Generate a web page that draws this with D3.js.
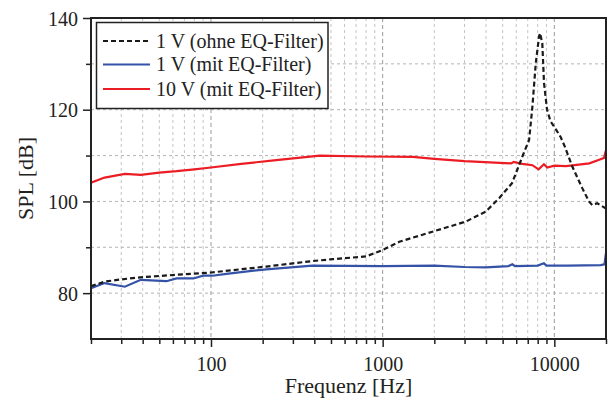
<!DOCTYPE html>
<html>
<head>
<meta charset="utf-8">
<script src="https://d3js.org/d3.v7.min.js"></script>
</head>
<body style="margin:0; background:#fff;">
<div id="chart"></div>
<script>
// frequency response data (Hz, dB)
var redFreq = [20, 24, 31.5, 39, 50, 63, 80, 100, 150, 240, 430, 800, 1500, 2000, 3000, 5600, 5800, 6500, 7450, 8100, 8700, 9100, 10000, 11700, 16000, 18600, 19500, 20000];
var redDb   = [104.1, 105.2, 106.0, 105.8, 106.3, 106.6, 107.0, 107.4, 108.2, 109.0, 110.0, 109.8, 109.7, 109.3, 108.8, 108.3, 108.6, 108.2, 107.9, 107.0, 108.1, 107.4, 107.8, 107.7, 108.3, 109.2, 109.5, 111.2];

var blueFreq = [20, 24, 31.5, 39, 55, 63, 79, 90, 102, 123, 210, 390, 1000, 2000, 3000, 4000, 5400, 5700, 5900, 8000, 8700, 9000, 12000, 18600, 19600, 20000];
var blueDb   = [81.1, 82.2, 81.4, 82.9, 82.6, 83.2, 83.2, 83.8, 83.8, 84.2, 85.2, 86.0, 85.9, 86.0, 85.7, 85.6, 85.9, 86.3, 85.9, 86.0, 86.5, 86.0, 86.0, 86.1, 86.3, 88.8];

var blackFreq = [20, 24, 30, 40, 63, 100, 210, 390, 510, 800, 1000, 1250, 1950, 3050, 3990, 4770, 5675, 6515, 7130, 7450, 7800, 8150, 8260, 8510, 8710, 9070, 9500, 10300, 10900, 11500, 12730, 14550, 15910, 16640, 17790, 19900];
var blackDb   = [81.5, 82.5, 83.0, 83.5, 84.0, 84.5, 85.8, 87.0, 87.4, 88.0, 89.4, 91.2, 93.4, 95.6, 97.8, 100.7, 104.0, 109.8, 113.4, 120.6, 130.2, 136.0, 136.7, 134.5, 125.8, 120.0, 117.5, 115.5, 114.0, 112.0, 107.6, 102.9, 100.0, 99.2, 99.6, 98.5];

var legendLabels = ["1 V (ohne EQ-Filter)", "1 V (mit EQ-Filter)", "10 V (mit EQ-Filter)"];
var xMajorTicks = [100, 1000, 10000];
var yMajorTicks = [80, 100, 120, 140];

var W = 608, H = 405;
var pL = 91, pR = 606, pT = 18, pB = 339;
var FONT = "Liberation Serif";

var svg = d3.select("#chart").append("svg")
    .attr("width", W).attr("height", H)
    .style("font-family", "'Liberation Serif'");

var x = d3.scaleLog().domain([20, 20000]).range([pL, pR]);
var y = d3.scaleLinear().domain([70, 140]).range([pB, pT]);

// minor frequency ticks
var xMinor = [];
[10, 100, 1000, 10000].forEach(function(dec) {
  for (var k = 1; k <= 9; k++) {
    var v = dec * k;
    if (v >= 20 && v <= 20000 && xMajorTicks.indexOf(v) < 0) xMinor.push(v);
  }
});
var yMinor = [90, 110, 130];

// grid
var grid = svg.append("g");
grid.selectAll(".vminor").data(xMinor.filter(function(d){ return d > 20 && d < 20000; }))
  .enter().append("line")
    .attr("x1", function(d){ return x(d); }).attr("x2", function(d){ return x(d); })
    .attr("y1", pT).attr("y2", pB)
    .attr("stroke", "#c4c4c4").attr("stroke-width", 1).attr("stroke-dasharray", "3,3");
grid.selectAll(".vmajor").data(xMajorTicks)
  .enter().append("line")
    .attr("x1", function(d){ return x(d); }).attr("x2", function(d){ return x(d); })
    .attr("y1", pT).attr("y2", pB)
    .attr("stroke", "#9a9a9a").attr("stroke-width", 1).attr("stroke-dasharray", "4,3");
grid.selectAll(".h").data([80, 90, 100, 110, 120, 130])
  .enter().append("line")
    .attr("x1", pL).attr("x2", pR)
    .attr("y1", function(d){ return y(d); }).attr("y2", function(d){ return y(d); })
    .attr("stroke", "#b4b4b4").attr("stroke-width", 1).attr("stroke-dasharray", "3,3");

// curves
svg.append("clipPath").attr("id", "clip").append("rect")
  .attr("x", pL).attr("y", pT).attr("width", pR - pL).attr("height", pB - pT);

var line = d3.line()
  .x(function(d){ return x(d[0]); })
  .y(function(d){ return y(d[1]); });

function pairs(f, v) { return f.map(function(d, i){ return [d, v[i]]; }); }

var curves = svg.append("g").attr("clip-path", "url(#clip)");
curves.append("path").datum(pairs(blueFreq, blueDb))
  .attr("d", line).attr("fill", "none").attr("stroke", "#3452a6").attr("stroke-width", 2.2);
curves.append("path").datum(pairs(redFreq, redDb))
  .attr("d", line).attr("fill", "none").attr("stroke", "#ec1c24").attr("stroke-width", 2.2);
curves.append("path").datum(pairs(blackFreq, blackDb))
  .attr("d", line).attr("fill", "none").attr("stroke", "#1a1a1a").attr("stroke-width", 2.2)
  .attr("stroke-dasharray", "5,3");

// axes
var xAxis = svg.append("g").attr("transform", "translate(0," + pB + ")");
xAxis.call(d3.axisBottom(x).tickValues(xMajorTicks).tickFormat(d3.format("d")).tickSize(8).tickPadding(10));
var xAxisMinor = svg.append("g").attr("transform", "translate(0," + pB + ")");
xAxisMinor.call(d3.axisBottom(x).tickValues(xMinor).tickFormat("").tickSize(5));

var yAxis = svg.append("g").attr("transform", "translate(" + pL + ",0)");
yAxis.call(d3.axisLeft(y).tickValues(yMajorTicks).tickSize(8).tickPadding(5));
var yAxisMinor = svg.append("g").attr("transform", "translate(" + pL + ",0)");
yAxisMinor.call(d3.axisLeft(y).tickValues(yMinor).tickFormat("").tickSize(5));

[xAxis, xAxisMinor, yAxis, yAxisMinor].forEach(function(a) {
  a.attr("font-family", FONT).attr("font-size", 20);
  a.select(".domain").remove();
  a.selectAll(".tick line").attr("stroke", "#222").attr("stroke-width", 1.5);
  a.selectAll("text").attr("fill", "#222").attr("font-family", FONT);
});
yAxis.selectAll("text").attr("dy", "0.35em");

// frame
svg.append("rect").attr("x", pL).attr("y", pT)
  .attr("width", pR - pL).attr("height", pB - pT)
  .attr("fill", "none").attr("stroke", "#222").attr("stroke-width", 2);

// axis titles
svg.append("text").attr("x", (pL + pR) / 2).attr("y", 393)
  .attr("text-anchor", "middle").attr("font-size", 22).attr("fill", "#222")
  .attr("font-family", FONT).text("Frequenz [Hz]");
svg.append("text")
  .attr("transform", "translate(33," + ((pT + pB) / 2) + ") rotate(-90)")
  .attr("text-anchor", "middle").attr("font-size", 22).attr("fill", "#222")
  .attr("font-family", FONT).text("SPL [dB]");

// legend
var lg = svg.append("g");
lg.append("rect").attr("x", 96.5).attr("y", 22.5).attr("width", 231.5).attr("height", 86)
  .attr("fill", "#fff").attr("stroke", "#222").attr("stroke-width", 1.5);
var legendStyles = [
  {color: "#1a1a1a", dash: "5,3"},
  {color: "#3452a6", dash: null},
  {color: "#ec1c24", dash: null}
];
var rowY = [41, 64.5, 89];
legendLabels.forEach(function(lbl, i) {
  var l = lg.append("line").attr("x1", 103).attr("x2", 150)
    .attr("y1", rowY[i]).attr("y2", rowY[i])
    .attr("stroke", legendStyles[i].color).attr("stroke-width", 2.2);
  if (legendStyles[i].dash) l.attr("stroke-dasharray", legendStyles[i].dash);
  lg.append("text").attr("x", 156).attr("y", rowY[i]).attr("dy", "0.33em")
    .attr("font-size", 20).attr("fill", "#222").attr("font-family", FONT).text(lbl);
});
</script>
</body>
</html>
